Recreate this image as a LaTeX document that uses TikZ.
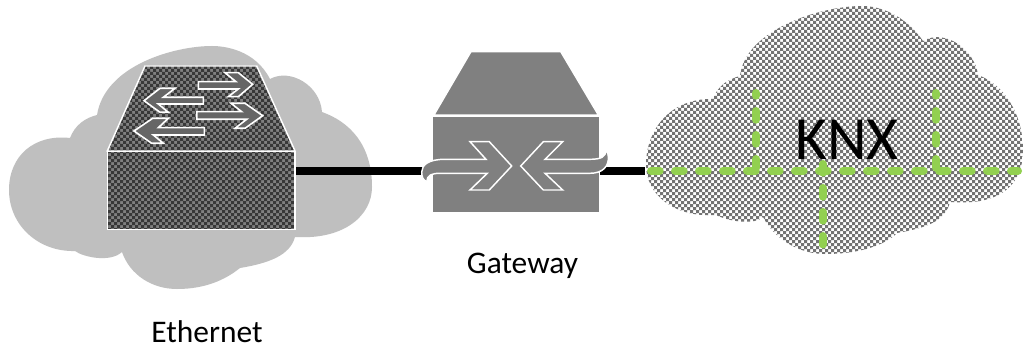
\documentclass[tikz,border=0pt]{standalone}
\usepackage{fontspec}
\setmainfont{Carlito}
\definecolor{cloudgray}{gray}{0.75}
\definecolor{midgray}{gray}{0.5}
\definecolor{darkchk}{gray}{0.22}
\definecolor{knxchk}{gray}{0.45}
\definecolor{swarrowfill}{gray}{0.4}
\definecolor{lan}{RGB}{146,208,80}
\def\knxcloud{(713,99)
 .. controls (670,98) and (646,130) .. (646,165)
 .. controls (646,195) and (675,218) .. (716,215)
 .. controls (730,222) and (755,225) .. (763,217)
 .. controls (775,240) and (800,254) .. (825,254)
 .. controls (860,254) and (885,245) .. (897,233)
 .. controls (925,228) and (945,222) .. (950,202)
 .. controls (1000,206) and (1023,185) .. (1023,150)
 .. controls (1023,115) and (1005,85) .. (978,75)
 .. controls (975,50) and (945,28) .. (923,41)
 .. controls (905,15) and (880,6) .. (862,6)
 .. controls (820,6) and (745,30) .. (740,76)
 .. controls (725,80) and (717,88) .. (713,99) -- cycle}
\def\swtop{(107.3,151) -- (145,66) -- (256.7,66) -- (295,151) -- cycle}
\def\swfront{(107.3,151.7) rectangle (295,229.3)}
% checker squares: #1 first x, #2 second x, #3 last x, #4 first y, #5 second y, #6 last y
\newcommand\chkfill[7]{\fill[#7] \foreach \cx in {#1,#2,...,#3} {\foreach \cy in {#4,#5,...,#6} {
   (\cx,\cy) rectangle ++(3,3) (\cx+3,\cy+3) rectangle ++(3,3)}};}
\tikzset{
  pic1/.style={x=0.75pt,y=-0.75pt},
  swedge/.style={draw=white,line width=1.1pt,line join=miter},
  swarrow/.style={fill=swarrowfill,draw=white,line width=1.2pt},
  gwbody/.style={fill=midgray,draw=white,line width=1pt},
  gwarrow/.style={fill=midgray,draw=white,line width=1.1pt},
  cable/.style={line width=6pt,draw=black},
  knxline/.style={draw=lan,line width=6pt,line cap=round,dash pattern=on 6.5pt off 11.5pt},
  caption/.style={font=\fontsize{23.6}{28}\selectfont,inner sep=0pt,text=black,anchor=base}
}
\begin{document}
\begin{tikzpicture}[pic1]
\useasboundingbox (0,0) rectangle (1023,349);
\fill[white] (0,0) rectangle (1023,349);
% Ethernet cloud
\fill[cloudgray] (70,138)
 .. controls (35,134) and (9,155) .. (9,190)
 .. controls (9,225) and (38,252) .. (75,251)
 .. controls (83,257) and (110,263) .. (122,252)
 .. controls (130,275) and (152,289) .. (177,289)
 .. controls (205,289) and (225,280) .. (240,268)
 .. controls (270,263) and (290,255) .. (295,237)
 .. controls (345,240) and (372,215) .. (372,187)
 .. controls (372,145) and (350,122) .. (322,112)
 .. controls (320,85) and (290,68) .. (270,79)
 .. controls (255,50) and (225,46) .. (212,46)
 .. controls (175,46) and (105,65) .. (97,115)
 .. controls (85,118) and (75,125) .. (70,138) -- cycle;
% KNX cloud
\begin{scope}
\clip \knxcloud;
\chkfill{642}{648}{1020}{0}{6}{258}{knxchk}
\end{scope}
% cables
\coordinate (cableR) at (645,170.7);
\node[inner sep=0pt,minimum size=0pt] (swport) at (296,170.7) {};
\node[inner sep=0pt,minimum size=0pt] (gwin) at (424,170.7) {};
\node[inner sep=0pt,minimum size=0pt] (gwout) at (600,170.7) {};
\draw[cable] (swport) -- (gwin);
\draw[cable] (gwout) -- (cableR);
% Switch
\fill[midgray] \swtop;
\begin{scope}\clip \swtop;
\chkfill{102}{108}{294}{60}{66}{150}{darkchk}
\end{scope}
\draw[swedge] \swtop;
\fill[midgray] \swfront;
\begin{scope}\clip \swfront;
\chkfill{102}{108}{294}{150}{156}{228}{darkchk}
\end{scope}
\draw[swedge] \swfront;
\path[swarrow] (198.3,81.7) -- (236,81.7) -- (225,72.7) -- (238.3,72.7) -- (252.7,84.3) -- (238.3,96.7) -- (228.3,96.7) -- (238.3,89) -- (198.3,89) -- cycle;
\path[swarrow] (196.7,111.7) -- (241.7,111.7) -- (231,103.3) -- (245,103.3) -- (262.7,115.7) -- (245,128.3) -- (235,128.3) -- (246.7,119.3) -- (196.7,119.3) -- cycle;
\path[swarrow] (203.3,97.3) -- (163.3,97.3) -- (175,88.3) -- (160,88.3) -- (144,100.7) -- (160,112.3) -- (168.3,112.3) -- (158.3,104) -- (203.3,104) -- cycle;
\path[swarrow] (204.3,127.7) -- (158.3,127.7) -- (168.3,118.3) -- (152.7,118.3) -- (134,131) -- (151.7,143.3) -- (163.3,143.3) -- (153.3,135) -- (204.3,135) -- cycle;
% Gateway
\path[gwbody] (434,115) -- (471,51.7) -- (560.7,51.7) -- (598.3,115) -- cycle;
\path[gwbody] (432.3,116.7) rectangle (599.3,212.3);
\path[gwarrow] (421.7,172)
 .. controls (422,165) and (428,159.3) .. (445,159.3)
 -- (486,159.3) -- (470,141.7) -- (489.3,141.7) -- (511.7,166) -- (489.3,190) -- (470,190) -- (487.3,173.3)
 -- (440,173.3) .. controls (432,173.3) and (427,175) .. (426.7,181.7)
 .. controls (423,180) and (421.7,177) .. (421.7,172) -- cycle;
\path[gwarrow] (605.7,150)
 .. controls (606,157) and (601,159.3) .. (590,159.3)
 -- (545,159.3) -- (562.7,141.7) -- (543.3,141.7) -- (520.7,166) -- (543.3,190) -- (562.7,190) -- (545,173.3)
 -- (590,173.3) .. controls (603,173.3) and (609,166) .. (608.3,156.7)
 .. controls (608,153) and (607,151) .. (605.7,150) -- cycle;
% KNX bus
\coordinate (busL) at (651,170.7);
\coordinate (busR) at (1018,170.7);
\coordinate (busA) at (756,167.7);
\coordinate (busAt) at (756,93);
\coordinate (busB) at (936,167.7);
\coordinate (busBt) at (936,93);
\coordinate (busC) at (823,164);
\coordinate (busCb) at (823,244.5);
\draw[knxline] (busL) -- (busR);
\draw[knxline] (busA) -- (busAt);
\draw[knxline] (busB) -- (busBt);
\draw[knxline] (busC) -- (busCb);
% labels
\node[font=\fontsize{46}{52}\selectfont,inner sep=0pt,text=black,anchor=base] (knx) at (847,160) {KNX};
\node[caption] (gw) at (522.5,273) {Gateway};
\node[caption] (eth) at (207,342) {Ethernet};
\end{tikzpicture}
\end{document}
